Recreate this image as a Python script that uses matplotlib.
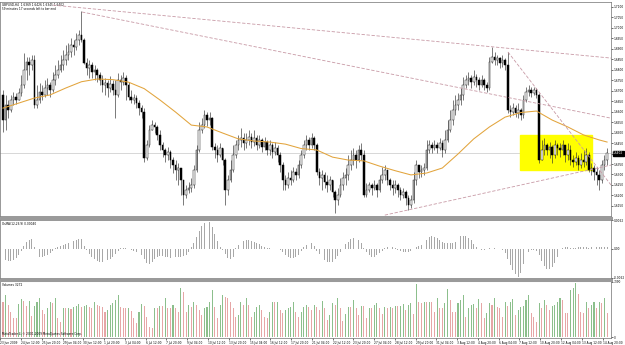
import numpy as np
import matplotlib
matplotlib.use('Agg')
import matplotlib.pyplot as plt
from matplotlib.patches import Rectangle
from matplotlib.lines import Line2D

# Du lieu nen H4 (gia x 10000)
open0_pts = 16680
close_pts = [16560,16632,16608,16656,16670,16656,16689,16727,16799,16837,
             16823,16847,16632,16656,16694,16680,16713,16727,16704,16751,
             16775,16799,16823,16847,16871,16885,16918,16909,16942,16966,
             16942,16832,16808,16823,16789,16799,16775,16751,16727,16737,
             16713,16732,16704,16680,16751,16741,16760,16727,16670,16656,
             16665,16641,16617,16598,16378,16441,16513,16536,16527,16489,
             16441,16417,16393,16407,16369,16345,16322,16331,16274,16202,
             16226,16235,16250,16322,16417,16513,16536,16584,16560,16569,
             16431,16417,16393,16426,16369,16226,16274,16322,16393,16441,
             16465,16474,16450,16465,16479,16455,16474,16441,16465,16431,
             16455,16417,16441,16407,16426,16393,16345,16274,16250,16283,
             16274,16312,16298,16345,16393,16441,16465,16441,16474,16441,
             16312,16283,16298,16264,16250,16274,16216,16178,16202,16250,
             16283,16298,16345,16369,16393,16369,16417,16393,16202,16226,
             16250,16235,16250,16226,16274,16298,16322,16274,16250,16235,
             16250,16226,16202,16216,16187,16154,16178,16274,16345,16312,
             16322,16331,16417,16441,16426,16441,16426,16450,16417,16465,
             16513,16560,16608,16632,16656,16680,16727,16751,16760,16741,
             16765,16751,16727,16751,16727,16713,16837,16861,16847,16856,
             16832,16847,16823,16608,16598,16617,16593,16608,16584,16656,
             16694,16704,16689,16704,16680,16369,16417,16441,16417,16431,
             16393,16441,16426,16417,16441,16393,16417,16369,16359,16378,
             16345,16369,16359,16393,16322,16331,16312,16298,16274,16345,
             16369,16402]
high_pts = [16704,16680,16656,16680,16694,16689,16713,16775,16880,16861,
            16861,16871,16871,16727,16737,16727,16751,16760,16741,16789,
            16823,16847,16871,16895,16918,16928,16952,16942,16975,16990,
            17080,16952,16856,16847,16837,16823,16808,16789,16775,16760,
            16751,16770,16751,16751,16784,16775,16789,16775,16741,16704,
            16684,16680,16656,16632,16617,16465,16536,16560,16550,16536,
            16513,16455,16426,16431,16417,16383,16369,16355,16322,16274,
            16250,16264,16283,16345,16441,16550,16569,16608,16598,16598,
            16574,16450,16441,16450,16417,16378,16298,16369,16441,16465,
            16489,16522,16498,16498,16513,16498,16513,16489,16489,16474,
            16479,16465,16465,16450,16455,16441,16407,16359,16298,16312,
            16322,16335,16331,16369,16417,16465,16489,16479,16498,16484,
            16450,16331,16322,16312,16298,16293,16274,16226,16235,16283,
            16312,16331,16393,16417,16426,16417,16441,16450,16417,16259,
            16264,16259,16274,16259,16298,16335,16345,16322,16283,16274,
            16274,16259,16240,16235,16226,16202,16202,16312,16369,16345,
            16345,16355,16465,16465,16455,16465,16455,16474,16465,16513,
            16560,16608,16656,16680,16689,16713,16765,16775,16789,16775,
            16799,16780,16765,16775,16760,16741,16861,16909,16885,16871,
            16861,16871,16856,16885,16632,16641,16632,16641,16617,16680,
            16718,16727,16718,16718,16713,16689,16465,16474,16450,16455,
            16441,16465,16450,16450,16465,16441,16450,16441,16393,16407,
            16393,16402,16417,16426,16407,16355,16345,16335,16322,16369,
            16393,16426]
low_pts = [16503,16513,16569,16598,16632,16636,16656,16675,16713,16751,
           16775,16799,16617,16617,16641,16656,16670,16680,16670,16694,
           16727,16760,16789,16799,16823,16847,16861,16871,16895,16918,
           16932,16827,16775,16760,16760,16751,16741,16727,16694,16680,
           16670,16694,16680,16569,16670,16704,16727,16656,16656,16641,
           16636,16617,16584,16569,16359,16369,16431,16513,16498,16465,
           16417,16383,16359,16369,16331,16307,16274,16250,16202,16154,
           16187,16211,16216,16235,16312,16407,16498,16522,16531,16536,
           16417,16378,16359,16383,16345,16154,16202,16264,16312,16378,
           16417,16431,16417,16426,16441,16426,16436,16417,16426,16407,
           16417,16393,16393,16378,16393,16359,16312,16226,16226,16235,
           16250,16264,16274,16283,16331,16378,16417,16417,16426,16417,
           16298,16250,16226,16235,16216,16226,16192,16116,16154,16192,
           16226,16250,16274,16322,16345,16331,16359,16369,16192,16192,
           16216,16202,16226,16192,16216,16259,16274,16250,16226,16202,
           16211,16192,16178,16187,16154,16130,16140,16163,16250,16283,
           16288,16298,16322,16402,16402,16417,16402,16417,16383,16402,
           16455,16503,16536,16584,16608,16632,16656,16713,16727,16713,
           16727,16718,16704,16718,16704,16694,16704,16832,16823,16823,
           16808,16813,16799,16593,16574,16584,16574,16569,16560,16569,
           16646,16675,16670,16680,16665,16355,16369,16393,16393,16378,
           16355,16378,16393,16383,16393,16359,16369,16345,16335,16345,
           16322,16331,16335,16345,16312,16298,16274,16250,16226,16259,
           16322,16345]

# duong MA (doc theo tung ngay)
ma_bars = [0, 6, 12, 18, 24, 30, 36, 42, 48, 54, 60, 66, 72, 78, 84, 90, 96, 102, 108, 114,
           120, 126, 132, 138, 144, 150, 156, 162, 168, 174, 180, 186, 192, 198, 204, 210,
           216, 222, 228, 231]
ma_pts = [16617,16641,16665,16680,16713,16743,16756,16753,16741,16710,16656,16598,16536,
          16527,16498,16470,16460,16455,16445,16424,16417,16383,16369,16365,16340,16318,
          16298,16307,16331,16398,16470,16527,16574,16596,16603,16560,16527,16489,16465,16455]

# OsMA (x 0.0001)
osma_e4 = [-20,-24,-26,-26,-24,-20,-13,-4,7,15,
           20,22,4,-13,-17,-17,-15,-13,-9,-4,
           2,4,7,9,11,13,15,17,20,22,
           22,7,-2,-11,-17,-22,-26,-28,-28,-26,
           -24,-22,-17,-11,-4,2,2,2,0,-2,
           -4,-7,-9,-13,-22,-31,-33,-28,-22,-17,
           -15,-15,-17,-17,-20,-20,-17,-17,-17,-15,
           -13,-7,4,13,26,39,50,57,59,59,
           48,33,17,4,-2,-11,-20,-22,-17,2,
           9,15,17,20,20,17,15,13,11,7,
           4,2,2,0,2,0,-2,-7,-13,-17,
           -20,-20,-17,-13,-4,4,9,13,13,7,
           -4,-11,-17,-24,-28,-28,-28,-22,-15,-7,
           7,11,15,22,24,24,20,13,2,-7,
           -13,-17,-17,-13,-9,-4,2,4,4,4,
           2,-2,-4,-7,-7,-7,-4,0,4,7,
           9,11,20,26,28,26,24,20,15,13,
           13,13,13,15,24,28,28,28,24,20,
           11,4,0,-2,-2,0,2,2,2,0,
           0,-2,-9,-22,-35,-46,-55,-61,-52,-33,
           -17,-7,-2,-2,-4,-13,-26,-37,-44,-44,
           -39,-31,-17,-4,2,4,4,2,2,2,
           4,4,4,4,2,4,4,4,4,4,
           4,4]

volumes = [4704,5645,4301,3360,2554,2554,4435,5107,4838,4166,
           4838,2822,4166,4704,5242,3629,3091,3898,4704,4570,
           5242,2554,2016,3898,3850,3920,3763,4032,4166,4435,
           4032,4166,4301,4032,3898,4704,4301,4166,4032,3360,
           3629,4301,4570,4973,5645,4032,3898,3870,3930,3494,
           2554,1882,3360,4435,4166,2688,1344,1210,3898,3860,
           4166,4130,5242,3898,3860,4301,3898,3360,6586,6048,
           3360,4301,4032,4704,4301,3629,2957,3898,4032,4704,
           6317,4032,2554,4301,5645,5376,5242,4704,3898,2688,
           2957,4704,4301,5242,4301,2688,3360,4032,4301,3629,
           2688,2554,3360,4704,4650,4760,3629,3226,3629,3898,
           4032,4704,3360,2688,3360,4032,4301,4032,3629,4301,
           4032,3629,4838,3898,2285,2957,4570,4301,5242,3898,
           2150,3091,4032,4000,4973,3898,2957,4166,4130,2554,
           3898,3870,4301,4570,3898,3091,4032,3898,4032,3898,
           4166,4130,4190,4435,3629,4301,4570,3091,7123,4704,
           4570,4704,4680,4730,4704,3360,5242,3898,3870,4570,
           6451,4973,3360,3330,4570,4973,5645,2688,3898,4301,
           4435,3898,5107,4570,2554,3226,4570,4301,5242,4032,
           3898,2688,4704,4166,4704,5107,2957,3629,4032,4166,
           4973,5645,3226,2688,2016,4570,3898,4973,4301,3629,
           4166,4301,4704,5242,4973,3226,3200,6317,6586,7258,
           5779,3360,3226,4704,3898,4301,4704,3898,4704,4570,
           5242,3272]

dates = ["23 Jun 2009", "24 Jun 12:00", "25 Jun 20:00", "29 Jun 04:00", "30 Jun 12:00",
         "1 Jul 20:00", "3 Jul 04:00", "6 Jul 12:00", "7 Jul 20:00", "9 Jul 04:00",
         "10 Jul 12:00", "13 Jul 20:00", "15 Jul 04:00", "16 Jul 12:00", "17 Jul 20:00",
         "21 Jul 04:00", "22 Jul 12:00", "23 Jul 20:00", "27 Jul 04:00", "28 Jul 12:00",
         "29 Jul 20:00", "31 Jul 04:00", "3 Aug 12:00", "4 Aug 20:00", "6 Aug 04:00",
         "7 Aug 12:00", "10 Aug 20:00", "12 Aug 04:00", "13 Aug 12:00", "14 Aug 20:00"]

# trendline da ve tay (bar, gia x 10000)
trend_start_bar = [19.1, 30.2, 193.1, 146.0]
trend_start_pts = [17109, 17076, 16885, 16106]
trend_end_bar = [232.5, 232.5, 232.5, 232.5]
trend_end_pts = [16856, 16569, 16250, 16345]

# vung chu nhat vang
box_bar = (197.7, 225.2)
box_pts = (16322, 16489)

close = np.array(close_pts) / 10000
high = np.array(high_pts) / 10000
low = np.array(low_pts) / 10000
opn = np.concatenate([[open0_pts / 10000], close[:-1]])
high = np.maximum(high, np.maximum(opn, close))
low = np.minimum(low, np.minimum(opn, close))
osma = np.array(osma_e4) / 10000
vol = np.array(volumes)
x = np.arange(len(close))

W, H = 625, 345
fig = plt.figure(figsize=(W / 100, H / 100), dpi=100)
fig.patch.set_facecolor('white')


def panel(top, bottom):
    return fig.add_axes([0, 1 - bottom / H, 611 / W, (bottom - top) / H])


ax1 = panel(2, 216)
ax2 = panel(220, 278)
ax3 = panel(281, 338)
fs = 2.1
for ax in (ax1, ax2, ax3):
    ax.set_xlim(-1.15, 232.5)
    ax.yaxis.tick_right()
    ax.tick_params(axis='y', labelsize=fs, length=1.2, width=0.4, pad=0.6, colors='black')
    ax.tick_params(axis='x', length=0)
    ax.set_xticks([])
    for s in ax.spines.values():
        s.set_color('#707070')
        s.set_linewidth(0.5)

# nen
up = close >= opn
ax1.vlines(x, low, high, color='#303030', lw=0.45, zorder=2)
ax1.bar(x[up], np.maximum(close - opn, 0.00004)[up], bottom=opn[up], width=0.62,
        color='white', edgecolor='#202020', linewidth=0.35, zorder=3)
ax1.bar(x[~up], (opn - close)[~up], bottom=close[~up], width=0.62,
        color='black', edgecolor='black', linewidth=0.35, zorder=3)

ax1.add_patch(Rectangle((box_bar[0], box_pts[0] / 10000), box_bar[1] - box_bar[0],
                        (box_pts[1] - box_pts[0]) / 10000, color='#ffff00', zorder=1))
ax1.plot(ma_bars, np.array(ma_pts) / 10000, color='#e2a43c', lw=0.75, zorder=4)
for i in range(len(trend_start_bar)):
    ax1.plot([trend_start_bar[i], trend_end_bar[i]],
             [trend_start_pts[i] / 10000, trend_end_pts[i] / 10000],
             color='#c89aa6', lw=0.6, dashes=(4, 2), zorder=4)
ax1.axhline(close[-1], color='#c8c8c8', lw=0.5, zorder=0.5)

ax1.set_ylim(1.61018, 1.71238)
ticks = np.arange(16150, 17101, 50) / 10000
ax1.set_yticks(ticks)
ax1.set_yticklabels(['%.4f' % t for t in ticks])
ax1.annotate('%.4f' % close[-1], xy=(1.0, close[-1]), xycoords=('axes fraction', 'data'),
             xytext=(1.5, 0), textcoords='offset points', fontsize=fs, color='white',
             va='center', ha='left', annotation_clip=False,
             bbox=dict(boxstyle='square,pad=0.15', fc='black', ec='black'))
ax1.text(0.003, 0.997, 'GBPUSD,H4  %.4f %.4f %.4f %.4f' % (opn[-1], high[-1], low[-1], close[-1]),
         transform=ax1.transAxes, fontsize=fs, va='top', ha='left')
ax1.text(0.003, 0.975, '59 minutes 17 seconds left to bar end', transform=ax1.transAxes,
         fontsize=fs, va='top', ha='left')

# OsMA
ax2.bar(x, osma, width=0.35, color='#a8a8a8')
ax2.set_ylim(-0.0063, 0.0063)
ax2.set_yticks([-0.0062, 0, 0.0062])
ax2.set_yticklabels(['-0.0062', '0.00', '0.0062'])
ax2.text(0.003, 0.97, 'OsMA(12,26,9) %.5f' % osma[-1], transform=ax2.transAxes,
         fontsize=fs, va='top', ha='left')

# Volumes: xanh khi tang, do khi giam
vcol = ['#8cbf8c' if i > 0 and vol[i] > vol[i - 1] else '#e6a6a6' for i in range(len(vol))]
ax3.bar(x, vol, width=0.4, color=vcol)
ax3.set_ylim(-134, 7524)
ax3.set_yticks([0, 7390])
ax3.set_yticklabels(['0', '7390'])
ax3.text(0.003, 0.97, 'Volumes %d' % vol[-1], transform=ax3.transAxes,
         fontsize=fs, va='top', ha='left')
ax3.text(0.003, 0.03, 'MetaTrader 4, \u00a9 2001-2009 MetaQuotes Software Corp.',
         transform=ax3.transAxes, fontsize=fs, va='bottom', ha='left')
ax3.set_xticks([7.94 * k - 1 for k in range(len(dates))])
ax3.set_xticklabels(dates, fontsize=fs, ha='left')
ax3.tick_params(axis='x', length=1.2, width=0.4, pad=0.8)

# vach ngan cac khung
for yy in (218, 279.5):
    fig.add_artist(Line2D([0, 611 / W], [1 - yy / H, 1 - yy / H], color='#9a9a9a', lw=2.2))

fig.savefig('out.png', dpi=100, facecolor='white')
